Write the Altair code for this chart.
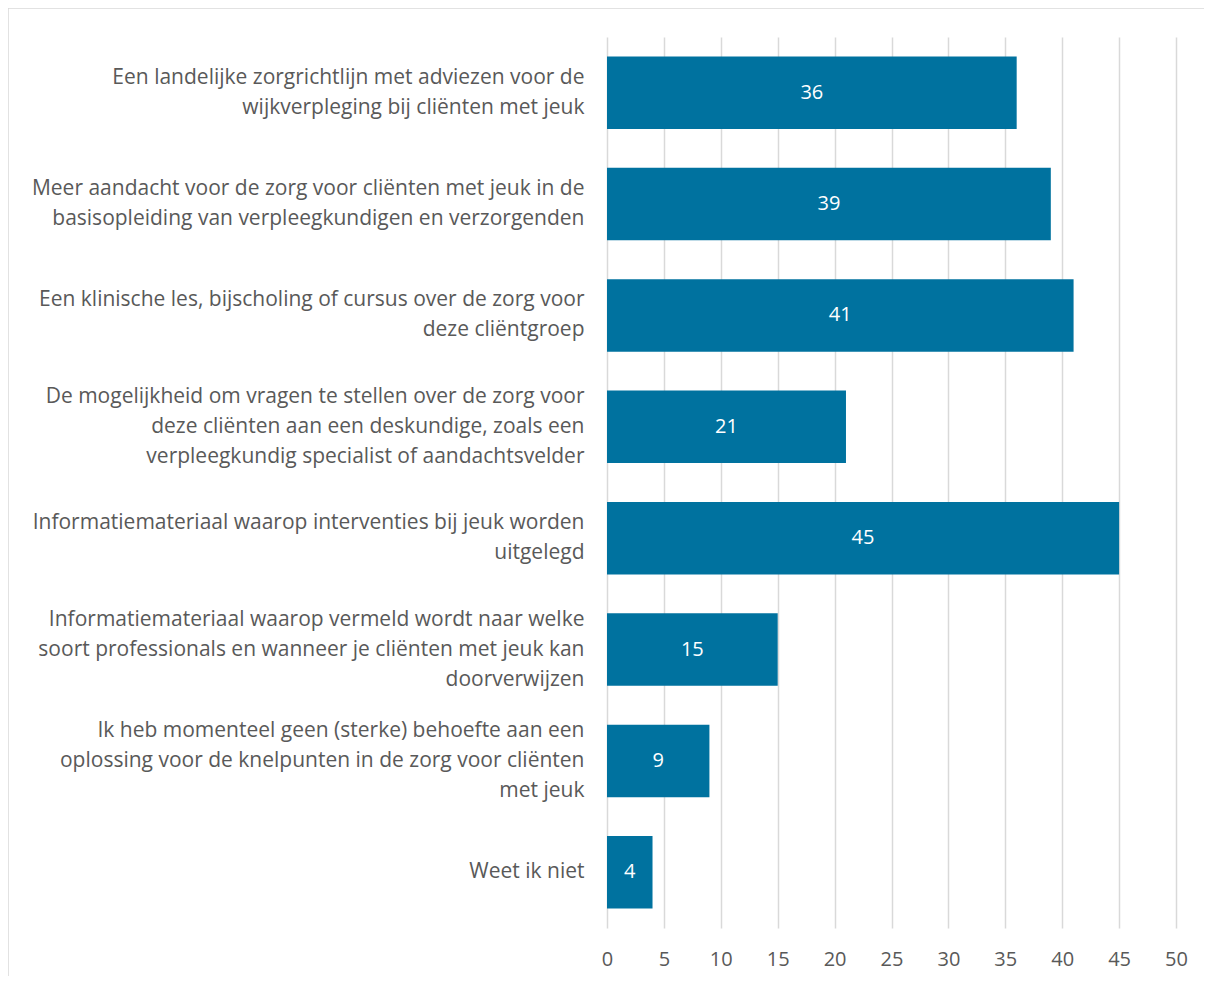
import altair as alt
import pandas as pd

categories = [
    "Een landelijke zorgrichtlijn met adviezen voor de|wijkverpleging bij cliënten met jeuk",
    "Meer aandacht voor de zorg voor cliënten met jeuk in de|basisopleiding van verpleegkundigen en verzorgenden",
    "Een klinische les, bijscholing of cursus over de zorg voor|deze cliëntgroep",
    "De mogelijkheid om vragen te stellen over de zorg voor|deze cliënten aan een deskundige, zoals een|verpleegkundig specialist of aandachtsvelder",
    "Informatiemateriaal waarop interventies bij jeuk worden|uitgelegd",
    "Informatiemateriaal waarop vermeld wordt naar welke|soort professionals en wanneer je cliënten met jeuk kan|doorverwijzen",
    "Ik heb momenteel geen (sterke) behoefte aan een|oplossing voor de knelpunten in de zorg voor cliënten|met jeuk",
    "Weet ik niet",
]
values = [36, 39, 41, 21, 45, 15, 9, 4]
tick_values = [0, 5, 10, 15, 20, 25, 30, 35, 40, 45, 50]

df = pd.DataFrame({"cat": categories, "val": values})
df["mid"] = df["val"] / 2

FONT = "Open Sans"
BAR = "#00729F"
FS = 21
GRAY = "#595959"
LH = 30

y_enc = alt.Y(
    "cat:N",
    sort=categories,
    scale=alt.Scale(paddingInner=0.35, paddingOuter=0.175),
    axis=alt.Axis(
        title=None,
        labelExpr="split(datum.label, '|')",
        labelLimit=0,
        labelFontSize=FS,
        labelFont=FONT,
        labelColor=GRAY,
        labelLineHeight=LH,
        labelPadding=23,
        labelOffset={
            "condition": [
                {"test": "length(split(datum.value, '|')) == 3", "value": -LH},
                {"test": "length(split(datum.value, '|')) == 2", "value": -LH / 2},
            ],
            "value": 0,
        },
        ticks=False,
        domain=False,
        grid=False,
    ),
)

x_scale = alt.Scale(domain=[0, 50], nice=False)

bars = alt.Chart(df).mark_bar(color=BAR).encode(
    x=alt.X(
        "val:Q",
        scale=x_scale,
        axis=alt.Axis(
            title=None,
            values=tick_values,
            labelFontSize=20,
            labelFont=FONT,
            labelColor=GRAY,
            labelPadding=21,
            labelFlush=False,
            ticks=False,
            domain=False,
            grid=True,
            gridColor="#D9D9D9",
            gridWidth=1.5,
        ),
    ),
    y=y_enc,
)

labels = alt.Chart(df).mark_text(
    color="white", fontSize=20, font=FONT, align="center", baseline="middle"
).encode(
    x=alt.X("mid:Q", scale=x_scale),
    y=alt.Y("cat:N", sort=categories),
    text=alt.Text("val:Q"),
)

frame = alt.Chart(pd.DataFrame({"a": [0]})).mark_rect(
    fill=None, stroke="#D9D9D9", strokeWidth=1.5
).encode(
    x=alt.value(-599), x2=alt.value(640), y=alt.value(-29), y2=alt.value(1000)
)

chart = (
    alt.layer(frame, bars, labels)
    .properties(
        width=569,
        height=891,
        autosize=alt.AutoSizeParams(type="none"),
        padding={"top": 29, "left": 599, "right": 28, "bottom": 48},
        background="white",
    )
    .configure_view(stroke=None)
)

chart.save("out.html", embed_options={"renderer": "svg", "actions": False})
